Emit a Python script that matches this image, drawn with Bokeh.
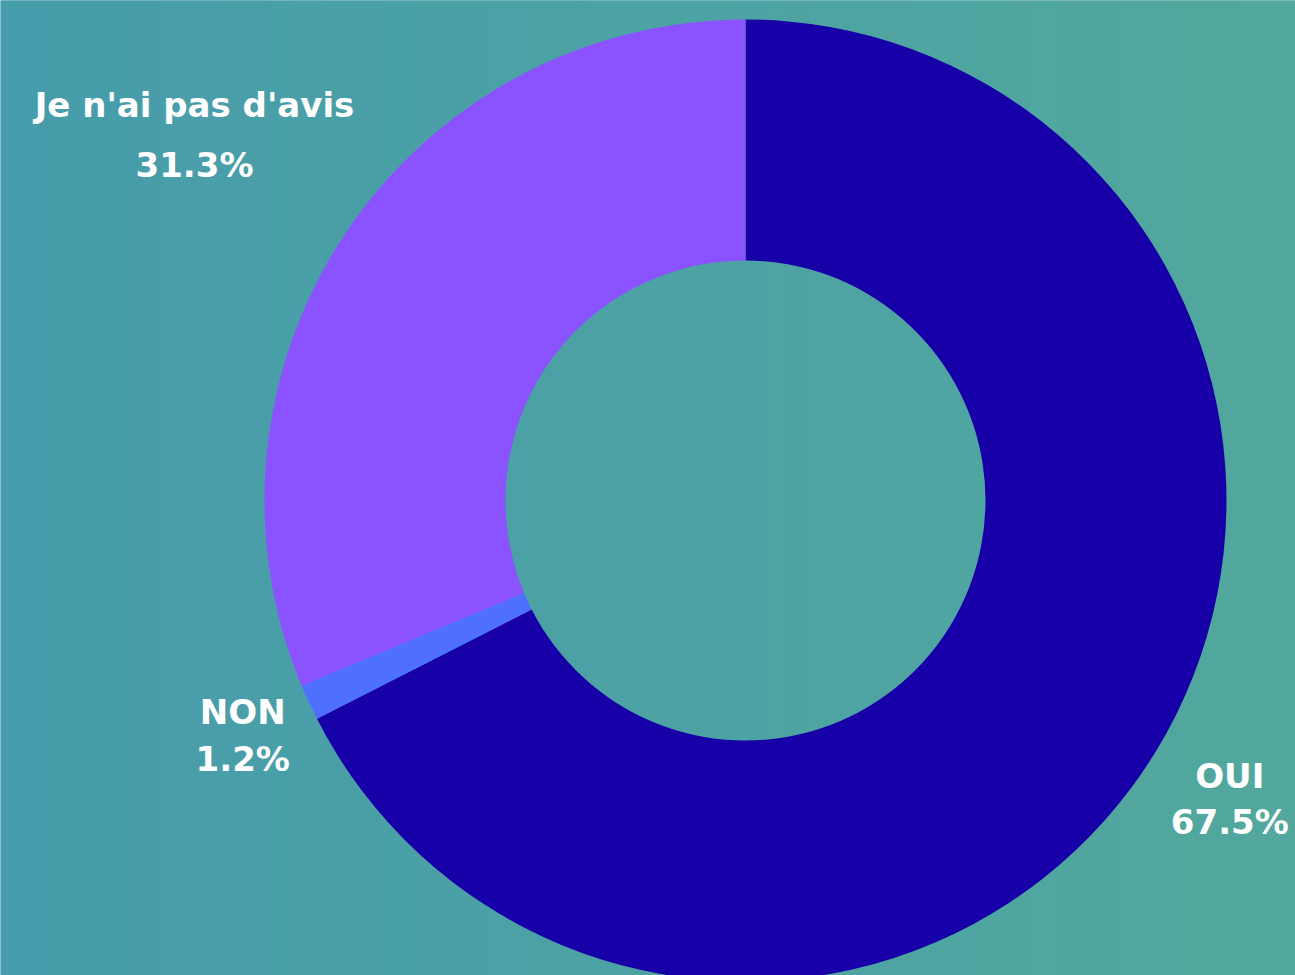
import math
from bokeh.plotting import figure
from bokeh.models import Range1d, ColumnDataSource
from bokeh.core.properties import value
from bokeh.embed import file_html
from bokeh.resources import INLINE

# ---- data ----
categories = ["OUI", "NON", "Je n'ai pas d'avis"]
shares = [67.5, 1.2, 31.3]
colors = ["#1800A8", "#4F70FF", "#8B52FF"]

# ---- layout / style ----
W, H = 1295, 975
cx, cy_screen = 745, 500
cy = H - cy_screen
r_out, r_in = 481, 240
label_dist = [568, 554, 662]
line1_off = [21.5, 21.5, 28.5]
line2_off = [-24.5, -25.5, -31.5]
FONT = "DejaVu Sans"
FSIZE = "34px"

p = figure(width=W, height=H, output_backend="svg", toolbar_location=None,
           x_range=Range1d(0, W), y_range=Range1d(0, H),
           min_border=0, outline_line_color=None)
p.axis.visible = False
p.grid.visible = False
p.background_fill_color = "#4CA2A5"
p.border_fill_color = "#4CA2A5"

# background gradient (style only)
c_left = (71, 156, 171)
c_right = (82, 168, 157)
nstrip = 160
sw = W / nstrip
lefts, rights, cols = [], [], []
for i in range(nstrip):
    t = (i + 0.5) / nstrip
    c = tuple(int(round(a + (b - a) * t)) for a, b in zip(c_left, c_right))
    lefts.append(i * sw)
    rights.append((i + 1) * sw + 1)
    cols.append("#%02x%02x%02x" % c)
p.quad(left=lefts, right=rights, bottom=-100, top=H + 100, fill_color=cols, line_color=None)

# wedges: start at 12 o'clock, clockwise
starts, ends, mids = [], [], []
a = math.pi / 2
for s in shares:
    sweep = s / 100 * 2 * math.pi
    starts.append(a - sweep)
    ends.append(a)
    mids.append(a - sweep / 2)
    a -= sweep

src = ColumnDataSource(dict(start=starts, end=ends, color=colors))
p.annular_wedge(x=cx, y=cy, inner_radius=r_in, outer_radius=r_out,
                start_angle="start", end_angle="end", color="color",
                line_color=None, source=src)

lx, l1y, l2y, t1, t2 = [], [], [], [], []
for i, (cat, s) in enumerate(zip(categories, shares)):
    ax = cx + label_dist[i] * math.cos(mids[i])
    ay = cy + label_dist[i] * math.sin(mids[i])
    lx.append(ax)
    l1y.append(ay + line1_off[i])
    l2y.append(ay + line2_off[i])
    t1.append(cat)
    t2.append(f"{s:.1f}%")

for ys, txt in ((l1y, t1), (l2y, t2)):
    p.text(x=lx, y=ys, text=txt, text_align="center", text_baseline="alphabetic",
           text_color="white", text_font=value(FONT), text_font_style="bold",
           text_font_size=FSIZE)

open("out.html", "w").write(file_html(p, INLINE))
